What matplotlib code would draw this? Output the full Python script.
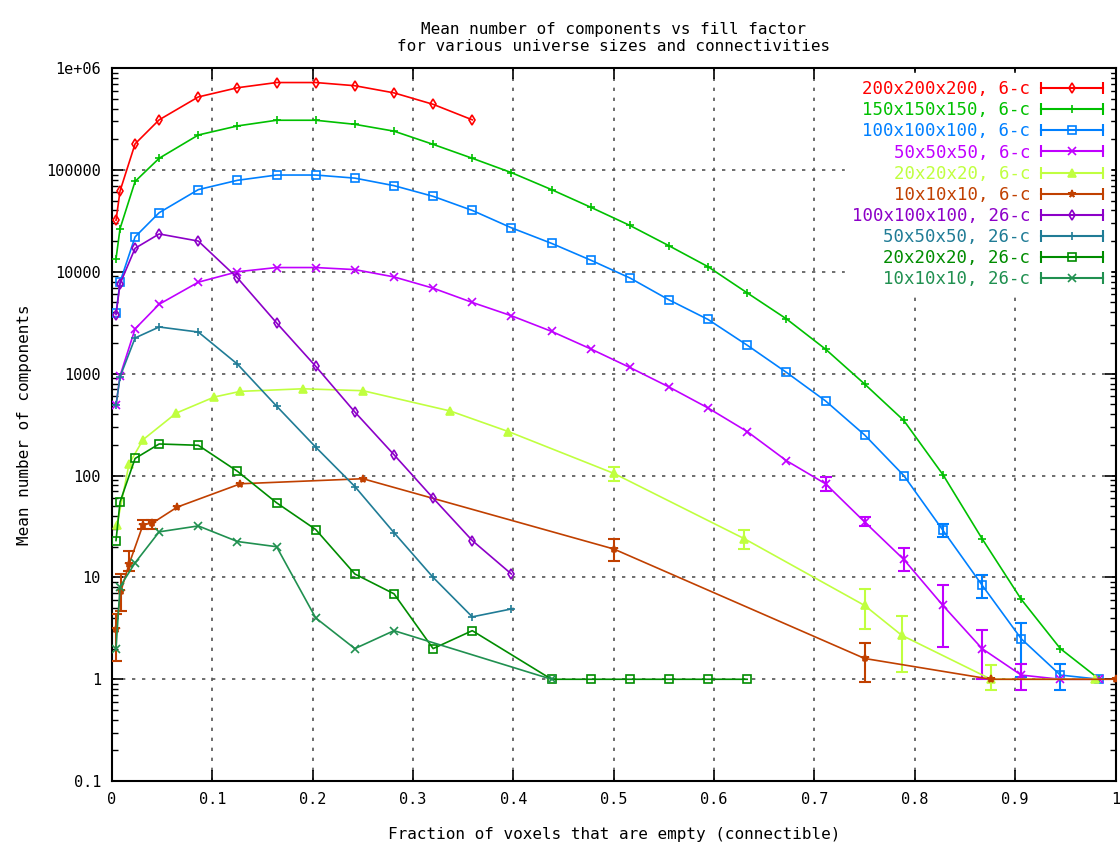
import numpy as np
import matplotlib
matplotlib.use("Agg")
import matplotlib.pyplot as plt
from matplotlib.lines import Line2D
from matplotlib.legend_handler import HandlerLine2D, HandlerTuple

plt.rcParams['font.family'] = ['DejaVu Sans Mono']

# x grid used by most series (fraction of empty voxels)
x_a = [0.004, 0.008, 0.023, 0.047, 0.086, 0.125, 0.164, 0.203, 0.242, 0.281,
       0.320, 0.359, 0.398, 0.438, 0.477, 0.516, 0.555, 0.594, 0.633, 0.672,
       0.711, 0.750, 0.789, 0.828, 0.867, 0.906, 0.945, 0.984]

# 6-connected
y_200 = [32000, 62000, 180000, 310000, 520000, 640000, 720000, 720000, 670000,
         570000, 440000, 310000]
y_150 = [13400, 26500, 77000, 130000, 220000, 270000, 307000, 307000, 280000,
         240000, 178000, 130000, 94000, 64000, 43000, 28500, 18000, 11200, 6200,
         3450, 1740, 790, 347, 102, 24, 6.1, 2.0, 1]
y_100 = [3900, 7900, 22000, 38000, 64000, 79000, 89000, 89000, 83000, 70000,
         55000, 40000, 27000, 19000, 13000, 8700, 5300, 3400, 1900, 1030, 540,
         250, 100, 29, 8.4, 2.5, 1.1, 1]
y_50 = [490, 950, 2750, 4800, 7900, 10000, 11000, 11000, 10500, 8900, 6900,
        5000, 3700, 2600, 1750, 1150, 740, 460, 270, 140, 83, 35, 15, 5.3, 2.0,
        1.1, 1, 1]
x_20 = [0.005, 0.017, 0.031, 0.064, 0.102, 0.128, 0.19, 0.25, 0.337, 0.395,
        0.5, 0.63, 0.75, 0.787, 0.876, 0.98]
y_20 = [33, 130, 225, 410, 590, 670, 710, 680, 430, 270, 105, 24, 5.3, 2.7,
        1.0, 1.0]
x_10 = [0.004, 0.009, 0.017, 0.031, 0.04, 0.065, 0.128, 0.25, 0.5, 0.75,
        0.876, 1.0]
y_10 = [3.1, 7.4, 13.5, 33, 34, 49, 83, 93, 19, 1.6, 1, 1]

# 26-connected
y_100c = [3800, 7600, 17000, 23500, 20000, 8700, 3150, 1180, 420, 160, 60, 23,
          10.8]
y_50c = [490, 930, 2240, 2870, 2560, 1240, 480, 190, 78, 27.5, 10, 4.1, 4.9]
x_20c = [0.004, 0.008, 0.023, 0.047, 0.086, 0.125, 0.164, 0.203, 0.242, 0.281,
         0.320, 0.359, 0.438, 0.477, 0.516, 0.555, 0.594, 0.633]
y_20c = [23, 55, 147, 204, 198, 110, 54, 29.5, 10.8, 6.9, 2.0, 3.0, 1, 1, 1,
         1, 1, 1]
x_10c = [0.004, 0.008, 0.023, 0.047, 0.086, 0.125, 0.164, 0.203, 0.242, 0.281,
         0.438]
y_10c = [2.0, 8.1, 13.9, 28, 32, 22.5, 20, 4.0, 2.0, 3.0, 1]

# visible error bars: (point index, low, high)
err_100 = [(23, 25, 33.6), (24, 6.3, 10.6), (25, 1.05, 3.6), (26, 0.78, 1.4)]
err_50 = [(20, 71, 97), (21, 32, 39.5), (22, 11.6, 19.5), (23, 2.07, 8.4),
          (24, 1.0, 3.04), (25, 0.78, 1.4)]
err_20 = [(10, 89, 120), (11, 19, 29.5), (12, 3.1, 7.7), (13, 1.17, 4.2),
          (14, 0.78, 1.37)]
err_10 = [(0, 1.5, 4.4), (1, 4.7, 10.8), (2, 11.6, 18), (3, 30, 37),
          (4, 30, 37), (8, 14.6, 24), (9, 0.93, 2.26)]

labels = ["200x200x200, 6-c", "150x150x150, 6-c", "100x100x100, 6-c",
          "50x50x50, 6-c", "20x20x20, 6-c", "10x10x10, 6-c",
          "100x100x100, 26-c", "50x50x50, 26-c", "20x20x20, 26-c",
          "10x10x10, 26-c"]

series = [
    (x_a[:12], y_200, [], "#ff0000", "d"),
    (x_a, y_150, [], "#00c000", "+"),
    (x_a, y_100, err_100, "#0080ff", "s"),
    (x_a, y_50, err_50, "#c000ff", "x"),
    (x_20, y_20, err_20, "#c0ff40", "^"),
    (x_10, y_10, err_10, "#c04000", "*"),
    (x_a[:13], y_100c, [], "#8c00c8", "d"),
    (x_a[:13], y_50c, [], "#207c96", "+"),
    (x_20c, y_20c, [], "#008c00", "s"),
    (x_10c, y_10c, [], "#209050", "x"),
]

fig = plt.figure(figsize=(11.2, 8.5), dpi=100)
ax = fig.add_axes([0.1, 0.081, 0.896, 0.839])

handles = []
hmap = {}
for (xs, ys, err, col, mk), lab in zip(series, labels):
    filled = mk in ("^", "*")
    ax.plot(xs, ys, color=col, lw=1.2, marker=mk, ms=6 if mk != "d" else 5.5,
            mfc=col if filled else "none", mec=col, mew=1.2, zorder=3)
    if err:
        ex = [xs[i] for i, lo, hi in err]
        ey = [ys[i] for i, lo, hi in err]
        elo = [ys[i] - lo for i, lo, hi in err]
        ehi = [hi - ys[i] for i, lo, hi in err]
        ax.errorbar(ex, ey, yerr=[elo, ehi], fmt="none", ecolor=col,
                    elinewidth=1.5, capsize=4, capthick=1.5, zorder=3)
    caps = Line2D([], [], color=col, lw=1.5, marker="|", ms=9, mew=1.5)
    mid = Line2D([], [], color=col, lw=0, marker=mk, ms=5.5,
                 mfc=col if filled else "none", mec=col, mew=1.2)
    hmap[caps] = HandlerLine2D(numpoints=2, marker_pad=0)
    hmap[mid] = HandlerLine2D(numpoints=1)
    handles.append((caps, mid))

hmap[tuple] = HandlerTuple(ndivide=1)

ax.set_yscale("log")
ax.set_xlim(0, 1)
ax.set_ylim(0.1, 1e6)
ax.set_xticks(np.arange(0, 1.01, 0.1))
ax.set_xticklabels(["0", "0.1", "0.2", "0.3", "0.4", "0.5", "0.6", "0.7",
                    "0.8", "0.9", "1"])
ax.set_yticks([0.1, 1, 10, 100, 1000, 1e4, 1e5, 1e6])
ax.set_yticklabels(["0.1", "1", "10", "100", "1000", "10000", "100000",
                    "1e+06"])
ax.tick_params(which="both", direction="in", top=True, right=True,
               labelsize=11, pad=8)
ax.tick_params(which="major", length=8, width=1.2)
ax.tick_params(which="minor", length=4, width=1)
ax.grid(True, which="major", color="#555555", ls=(0, (2, 4)), lw=1.2)
for s in ax.spines.values():
    s.set_linewidth(1.5)

leg = ax.legend(handles, labels, handler_map=hmap, loc="upper right",
                markerfirst=False, frameon=True, fancybox=False,
                edgecolor="white", framealpha=1, fontsize=12.5,
                handlelength=3.6, labelspacing=0.18, borderaxespad=0.3,
                handletextpad=0.6)
for t, (xs, ys, err, col, mk) in zip(leg.get_texts(), series):
    t.set_color(col)
leg.set_zorder(5)

ax.set_title("Mean number of components vs fill factor\n"
             "for various universe sizes and connectivities",
             fontsize=11.5, pad=12)
ax.set_xlabel("Fraction of voxels that are empty (connectible)",
              fontsize=11.5, labelpad=14)
ax.set_ylabel("Mean number of components", fontsize=11.5, labelpad=10)

fig.savefig("out.png", dpi=100)
